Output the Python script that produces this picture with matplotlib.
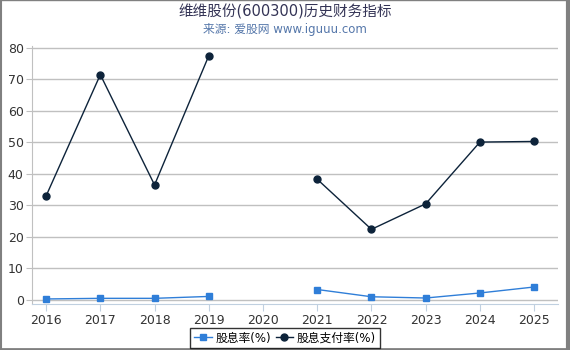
import numpy as np
import matplotlib.pyplot as plt
from matplotlib.lines import Line2D

plt.rcParams['font.family'] = ['DejaVu Sans', 'Noto Sans CJK SC']

years = [2016, 2017, 2018, 2019, 2020, 2021, 2022, 2023, 2024, 2025]
dividend_yield = [0.3, 0.5, 0.5, 1.1, np.nan, 3.3, 1.0, 0.6, 2.2, 4.1]
payout_ratio = [33.0, 71.5, 36.5, 77.5, np.nan, 38.3, 22.4, 30.5, 50.1, 50.3]

fig = plt.figure(figsize=(5.7, 3.5), dpi=100)
ax = fig.add_axes([32 / 570, 1 - 304 / 350, (558 - 32) / 570, (304 - 46) / 350])

ax.plot(years, dividend_yield, color='#2f7ed8', marker='s', markersize=5,
        linewidth=1, label='股息率(%)')
ax.plot(years, payout_ratio, color='#0d233a', marker='o', markersize=5,
        linewidth=1, label='股息支付率(%)')

ax.set_xlim(2015.74, 2025.44)
ax.set_ylim(-1.3, 80.6)
ax.set_xticks(years)
ax.set_yticks(range(0, 81, 10))
ax.grid(axis='y', color='#c0c0c0', linewidth=1)
ax.set_axisbelow(True)

for side in ['top', 'right']:
    ax.spines[side].set_visible(False)
ax.spines['left'].set_color('#c0c0c0')
ax.spines['bottom'].set_color('#c0d0e0')
ax.tick_params(axis='x', colors='#c0d0e0', labelcolor='#333333', labelsize=9,
               length=5, pad=2)
ax.tick_params(axis='y', colors='#c0c0c0', labelcolor='#333333', labelsize=9,
               length=4, pad=2)

fig.text(0.5, 1 - 12 / 350, '维维股份(600300)历史财务指标', ha='center', va='center',
         fontsize=10.5, color='#333355')
fig.text(0.5, 1 - 29 / 350, '来源: 爱股网 www.iguuu.com', ha='center', va='center',
         fontsize=8.5, color='#5577aa')

leg = fig.legend(loc='center', bbox_to_anchor=(285 / 570, 1 - 338 / 350), ncol=2,
                 fontsize=8.5, frameon=True, fancybox=False, edgecolor='black',
                 handlelength=1.5, handletextpad=0.3, columnspacing=0.4,
                 borderpad=0.3)
leg.get_frame().set_linewidth(1)

# grey frame round the picture: thin top/left, heavier right/bottom
border = '#808080'
fig.add_artist(Line2D([0, 1], [0.999, 0.999], transform=fig.transFigure, color=border, lw=1))
fig.add_artist(Line2D([0.001, 0.001], [0, 1], transform=fig.transFigure, color=border, lw=1.5))
fig.add_artist(Line2D([0.997, 0.997], [0, 1], transform=fig.transFigure, color=border, lw=3))
fig.add_artist(Line2D([0, 1], [0.003, 0.003], transform=fig.transFigure, color=border, lw=2))

fig.savefig('out.png', dpi=100)
